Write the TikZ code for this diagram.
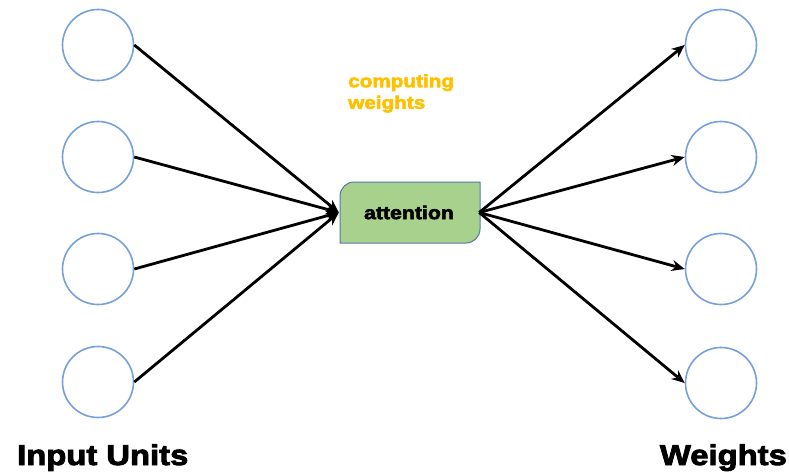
\documentclass[tikz,border=0pt]{standalone}
\usepackage{fontspec}
\setmainfont{Liberation Sans}
\newfontfamily\blackfont[FakeStretch=1.15,FakeBold=3]{Liberation Sans Bold}
\usetikzlibrary{arrows.meta}
\definecolor{circblue}{RGB}{118,160,220}
\definecolor{boxgreen}{RGB}{169,209,142}
\definecolor{boxedge}{RGB}{84,120,170}
\definecolor{gold}{RGB}{255,192,0}
\tikzset{
  unit/.style={circle, draw=circblue, line width=1.6pt, minimum size=71pt, inner sep=0pt},
  conn/.style={line width=2.8pt, black, -{Stealth[length=13pt,width=11pt]}},
}
\begin{document}
\begin{tikzpicture}[x=1pt,y=-1pt]
\useasboundingbox (0,0) rectangle (789,475);
% input units
\node[unit] (l1) at (98,45) {};
\node[unit] (l2) at (98,157) {};
\node[unit] (l3) at (98,269) {};
\node[unit] (l4) at (98,382) {};
% weights
\node[unit] (r1) at (721,45) {};
\node[unit] (r2) at (721,157) {};
\node[unit] (r3) at (721,269) {};
\node[unit] (r4) at (721,383) {};
% attention box
\path[fill=boxgreen, draw=boxedge, line width=1pt]
  (340,243) -- (340,196) .. controls (340,188.3) and (346.3,182) .. (354,182) -- (480,182)
  -- (480,229) .. controls (480,236.7) and (473.7,243) .. (466,243) -- cycle;
\node[minimum width=140pt, minimum height=61pt, inner sep=0pt,
      font=\blackfont\fontsize{18.5}{18.5}\selectfont] (att) at (409,212.5) {attention};
% connectors
\foreach \i in {1,...,4} {
  \draw[conn] (l\i.east) -- (att.west);
  \draw[conn] (att.east) -- (r\i.west);
}
% labels
\node[anchor=north west, align=left, text=gold, inner sep=0pt,
      font=\blackfont\fontsize{18}{21.5}\selectfont] (cw) at (348,74)
  {computing\\weights};
\node[anchor=base west, inner sep=0pt, font=\blackfont\fontsize{28.5}{28.5}\selectfont]
  (iu) at (17,465) {Input Units};
\node[anchor=base east, inner sep=0pt, font=\blackfont\fontsize{28.5}{28.5}\selectfont]
  (wt) at (787,465) {Weights};
\end{tikzpicture}
\end{document}
